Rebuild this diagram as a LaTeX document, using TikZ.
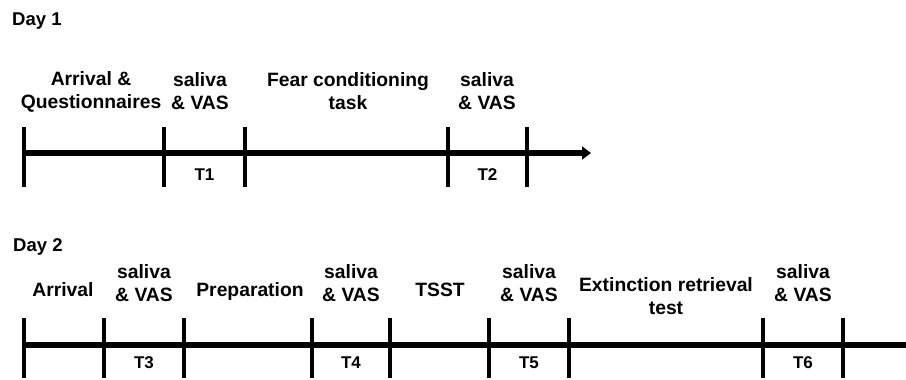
\documentclass[tikz,border=0pt]{standalone}
\usepackage{fontspec}
\setmainfont{Liberation Sans}
\usetikzlibrary{arrows.meta}
\begin{document}
\begin{tikzpicture}[x=1pt,y=-1pt,
  lbl/.style={font=\bfseries\fontsize{19.3}{23}\selectfont, align=center, inner sep=0pt},
  daylbl/.style={font=\bfseries\fontsize{18.5}{22}\selectfont, inner sep=0pt, anchor=base west},
  tlbl/.style={font=\bfseries\fontsize{17}{20}\selectfont, inner sep=0pt},
  axisline/.style={line width=6pt},
  tickline/.style={line width=4.8pt}]
\useasboundingbox (0,0) rectangle (906,380);

% ---------- Day 1 ----------
\node[daylbl] (day1) at (12,26) {Day 1};
\foreach \n/\x in {0/24,1/164,2/245,3/448,4/527} {
  \coordinate (d1t\n) at (\x,127);
  \coordinate (d1b\n) at (\x,187);
  \draw[tickline] (d1t\n) -- (d1b\n);
}
\coordinate (d1s) at (24,153);
\coordinate (d1e) at (591,153);
\draw[axisline,-{Triangle[length=9pt,width=13pt]}] (d1s) -- (d1e);

\node[lbl] (arr1) at (91,91.5) {Arrival \&\\Questionnaires};
\node[lbl] (sv1) at (200,91.5) {saliva\\\& VAS};
\node[lbl] (fear) at (348,91.5) {Fear conditioning\\task};
\node[lbl] (sv2) at (487,91.5) {saliva\\\& VAS};
\node[tlbl] (t1) at (204.5,175) {T1};
\node[tlbl] (t2) at (487.5,175) {T2};

% ---------- Day 2 ----------
\node[daylbl] (day2) at (13,251) {Day 2};
\foreach \n/\x in {0/24,1/104,2/184,3/312,4/390,5/489,6/569,7/763,8/843} {
  \coordinate (d2t\n) at (\x,318);
  \coordinate (d2b\n) at (\x,378);
  \draw[tickline] (d2t\n) -- (d2b\n);
}
\coordinate (d2s) at (24,345);
\coordinate (d2e) at (906,345);
\draw[axisline] (d2s) -- (d2e);

\node[lbl, anchor=base] (arr2) at (63,296) {Arrival};
\node[lbl] (sv3) at (144,283.5) {saliva\\\& VAS};
\node[lbl, anchor=base] (prep) at (250,296) {Preparation};
\node[lbl] (sv4) at (351,283.5) {saliva\\\& VAS};
\node[lbl, anchor=base] (tsst) at (440,296) {TSST};
\node[lbl] (sv5) at (529,283.5) {saliva\\\& VAS};
\node[lbl] (ext) at (666,296.5) {Extinction retrieval\\test};
\node[lbl] (sv6) at (803,283.5) {saliva\\\& VAS};
\node[tlbl] (t3) at (144,363) {T3};
\node[tlbl] (t4) at (351,363) {T4};
\node[tlbl] (t5) at (529,363) {T5};
\node[tlbl] (t6) at (803,363) {T6};
\end{tikzpicture}
\end{document}
